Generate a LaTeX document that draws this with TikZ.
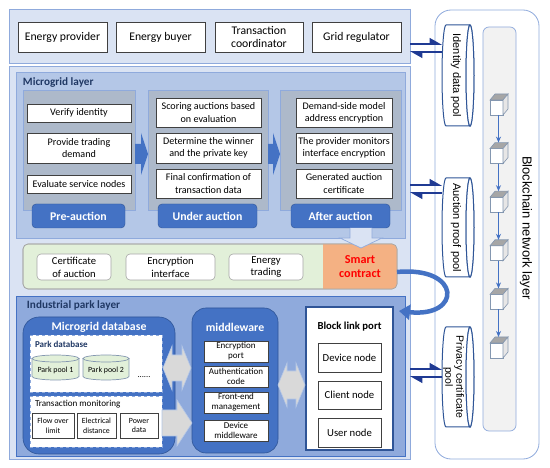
\documentclass[tikz,border=0pt]{standalone}
\usepackage{fontspec}
\setmainfont{Carlito}
\newfontfamily\arialf{Liberation Sans}
\usetikzlibrary{arrows.meta,calc}
\definecolor{pnlL}{HTML}{DAE3F3}
\definecolor{pnlB}{HTML}{8FAADC}
\definecolor{pnlM}{HTML}{B4C7E7}
\definecolor{colG}{HTML}{ADB9CA}
\definecolor{blu}{HTML}{4472C4}
\definecolor{dblu}{HTML}{2F5597}
\definecolor{navy}{HTML}{1F3A93}
\definecolor{ttl}{HTML}{203864}
\definecolor{grn}{HTML}{E2F0D9}
\definecolor{org}{HTML}{F4B183}
\definecolor{bdr}{HTML}{404040}
\definecolor{gbdr}{HTML}{A6A6A6}
\definecolor{garr}{HTML}{D9D9D9}
\definecolor{cubeB}{HTML}{8497B0}
\definecolor{cubeT}{HTML}{A6A6A6}
\definecolor{cubeS}{HTML}{E7E6E6}
\definecolor{chainG}{HTML}{F2F2F2}
\newcommand\fsz[2]{\fontsize{#1}{#2}\selectfont}
\newcommand\hcyl[4]{%
  \filldraw[poolline] (#3-4,{(#2+#4)/2}) ellipse (4 and {(#4-#2)/2});
  \filldraw[poolline] (#3-4,#2) -- (#1+4,#2) arc (270:90:4 and {(#4-#2)/2}) -- (#3-4,#4) arc (90:270:4 and {(#4-#2)/2});
  \draw[poolline] (#3-4,{(#2+#4)/2}) ellipse (4 and {(#4-#2)/2});}
\newcommand\vcyl[4]{%
  \filldraw[ppool] (#1,#2+3.5) -- (#1,#4-3.5) arc (180:0:{(#3-#1)/2} and 3.5) -- (#3,#2+3.5) -- cycle;
  \filldraw[ppool] ({(#1+#3)/2},#2+3.5) ellipse ({(#3-#1)/2} and 3.5);}
\begin{document}
\begin{tikzpicture}[x=1pt,y=-1pt,
  every node/.style={inner sep=0pt, outer sep=0pt},
  panel/.style={draw=pnlB, fill=pnlL, line width=0.8pt},
  wbox/.style={draw=bdr, fill=white, align=center, line width=0.6pt},
  stagecol/.style={draw=pnlB, fill=colG, line width=0.8pt},
  stagelbl/.style={draw=dblu, fill=blu, rounded corners=4pt, text=white, font=\bfseries\fsz{11.8}{13}},
  sbox/.style={wbox, font=\fsz{10.1}{12.2}},
  rbox/.style={draw=gbdr, fill=white, rounded corners=4pt, align=center, line width=0.6pt, font=\fsz{10.6}{12.8}},
  dbox/.style={draw=pnlB, fill=white, dashed, line width=0.8pt},
  mbox/.style={draw=bdr, fill=white, align=center, line width=0.6pt, font=\fsz{7.9}{9.6}},
  mwbox/.style={draw=bdr, fill=white, align=center, line width=0.7pt, font=\fsz{9}{10}},
  nbox/.style={draw=bdr, fill=white, align=center, line width=0.6pt, font=\fsz{10.7}{12}},
  ppool/.style={draw=cubeB, fill=grn, line width=0.7pt},
  poolline/.style={draw=dblu, fill=white, line width=1pt},
  gray arrow/.style={fill=garr, draw=pnlM, line width=0.6pt},
  harp/.style={draw=navy, line width=1.6pt, -{Triangle[harpoon, left, length=11pt, width=12pt]}},
  cubef/.style={draw=cubeB, fill=white, line width=0.6pt}]
\useasboundingbox (0,0) rectangle (550,468);
\fill[white] (0,0) rectangle (550,468);

% ---------- blockchain network layer ----------
\node[draw=pnlB, fill=white, rounded corners=16pt, minimum width=104pt, minimum height=449pt, line width=0.8pt] (bc) at (487,234.5) {};
\node[draw=pnlB, fill=chainG, rounded corners=6pt, minimum width=33pt, minimum height=404pt, line width=0.7pt] (chain) at (499.5,229) {};
\node[rotate=-90, font=\arialf\fsz{13}{15}] (bcl) at (526,228) {Blockchain network layer};
\foreach \i in {1,...,6} \node[cubef, minimum width=13pt, minimum height=15pt] (c\i) at (496.5,{107.5+48.6*(\i-1)}) {};
\foreach \i in {1,...,6} {
  \filldraw[fill=cubeT, draw=cubeB, line width=0.6pt] (c\i.north west) -- ++(5,-6) -- ++(13,0) -- (c\i.north east) -- cycle;
  \filldraw[fill=cubeS, draw=cubeB, line width=0.6pt] (c\i.north east) -- ++(5,-6) -- ++(0,15) -- (c\i.south east) -- cycle;
}
\foreach \i/\j in {1/2,2/3,3/4,4/5,5/6}
  \draw[blu, line width=1.1pt, -{Stealth[length=6pt,width=5pt]}] ([xshift=2pt]c\i.south) -- ([xshift=2pt,yshift=6pt]c\j.north);

\hcyl{442}{25}{474}{126}
\node[rotate=-90, font=\arialf\fsz{11}{12}, minimum width=101pt, minimum height=28pt] (idp) at (456,75.5) {Identity data pool};
\hcyl{442}{178}{474}{277}
\node[rotate=-90, font=\arialf\fsz{11}{12}, minimum width=99pt, minimum height=28pt] (ap) at (456,227.5) {Auction proof pool};
\hcyl{442}{327}{474}{427}
\node[rotate=-90, font=\arialf\fsz{10.5}{11}, align=center, minimum width=100pt, minimum height=23pt] (pcp) at (453.5,377) {Privacy certificate\\pool};

% ---------- top panel ----------
\node[panel, minimum width=401pt, minimum height=54pt] (top) at (209.5,36) {};
\node[wbox, font=\fsz{11.7}{13.5}, minimum width=89pt, minimum height=30pt] (ep) at (62.5,37) {Energy provider};
\node[wbox, font=\fsz{11.7}{13.5}, minimum width=89pt, minimum height=30pt] (eb) at (160.5,37) {Energy buyer};
\node[wbox, font=\fsz{11.7}{13.5}, minimum width=88pt, minimum height=30pt] (tc) at (259,37) {Transaction\\coordinator};
\node[wbox, font=\fsz{11.7}{13.5}, minimum width=89pt, minimum height=30pt] (gr) at (356.5,37) {Grid regulator};

% ---------- outer panel ----------
\node[panel, minimum width=401pt, minimum height=393pt] (outer) at (209.5,262.5) {};

% ---------- microgrid layer ----------
\node[draw=pnlB, fill=pnlM, line width=0.8pt, minimum width=389pt, minimum height=166pt] (mgl) at (210.5,155) {};
\node[anchor=west, font=\bfseries\fsz{11.2}{12}, text=ttl] (mgt) at (23,83) {Microgrid layer};

\node[stagecol, minimum width=112pt, minimum height=120pt] (pre) at (79,150) {};
\node[stagecol, minimum width=120pt, minimum height=120pt] (under) at (208,150) {};
\node[stagecol, minimum width=121pt, minimum height=120pt] (after) at (340.5,150) {};

\fill[blu] (135,144) -- (141,144) -- (141,133) -- (148,154) -- (141,175) -- (141,164) -- (135,164) -- cycle;
\fill[blu] (268,144) -- (273,144) -- (273,133) -- (280,154) -- (273,175) -- (273,164) -- (268,164) -- cycle;

\node[sbox, minimum width=104pt, minimum height=18pt] (vi) at (79,113) {Verify identity};
\node[sbox, minimum width=104pt, minimum height=30pt] (ptd) at (79,148) {Provide trading\\demand};
\node[sbox, minimum width=104pt, minimum height=18pt] (esn) at (79,184) {Evaluate service nodes};

\node[sbox, minimum width=105pt, minimum height=29pt] (sab) at (208.5,112.5) {Scoring auctions based\\on evaluation};
\node[sbox, minimum width=105pt, minimum height=30pt] (dtw) at (208.5,148) {Determine the winner\\and the private key};
\node[sbox, minimum width=105pt, minimum height=29pt] (fct) at (208.5,183.5) {Final confirmation of\\transaction data};

\node[sbox, minimum width=96pt, minimum height=29pt] (dsm) at (344,112.5) {Demand-side model\\address encryption};
\node[sbox, minimum width=96pt, minimum height=30pt] (tpm) at (344,148) {The provider monitors\\interface encryption};
\node[sbox, minimum width=96pt, minimum height=29pt] (gac) at (344,183.5) {Generated auction\\certificate};

\node[stagelbl, minimum width=93pt, minimum height=24pt] (preL) at (78.5,216) {Pre-auction};
\node[stagelbl, minimum width=99pt, minimum height=24pt] (underL) at (207.5,216) {Under auction};
\node[stagelbl, minimum width=99pt, minimum height=24pt] (afterL) at (340.5,216) {After auction};

% ---------- smart contract row ----------
\node[draw=gbdr, fill=grn, rounded corners=5pt, minimum width=374pt, minimum height=45pt, line width=0.6pt] (scrow) at (210,266.5) {};
\fill[org, rounded corners=5pt] (323,244) -- (397,244) -- (397,289) -- (323,289);
\draw[gbdr, line width=0.6pt, rounded corners=5pt] (scrow.north west) rectangle (scrow.south east);
\node[font=\bfseries\fsz{12.2}{14.5}, text=red, align=center] (sc) at (360,266.5) {Smart\\contract};
\node[rbox, minimum width=74pt, minimum height=26pt] (coa) at (74,267) {Certificate\\of auction};
\node[rbox, minimum width=89pt, minimum height=26pt] (ei) at (170.5,267) {Encryption\\interface};
\node[rbox, minimum width=74pt, minimum height=26pt] (et) at (266,267) {Energy\\trading};

\filldraw[fill=pnlL, draw=pnlB, line width=0.7pt] (350,228) -- (350,238) -- (340,238) -- (361,248) -- (382,238) -- (372,238) -- (372,228);

% ---------- industrial park layer ----------
\node[draw=blu, fill=pnlB, line width=0.8pt, minimum width=389pt, minimum height=160pt] (ind) at (210.5,376) {};
\node[anchor=west, font=\bfseries\fsz{11.2}{12}, text=ttl] (indt) at (27,305) {Industrial park layer};

\node[fill=blu, draw=dblu, line width=0.6pt, rounded corners=16pt, minimum width=152pt, minimum height=137pt] (mdb) at (99,385.5) {};
\node[font=\bfseries\fsz{11.8}{13}, text=white] (mdbt) at (99,327) {Microgrid database};
\node[dbox, minimum width=132pt, minimum height=57pt] (pdb) at (96,363.5) {};
\node[anchor=west, font=\bfseries\fsz{9}{10}, text=ttl] (pdbt) at (35,344) {Park database};
\vcyl{32}{355}{79}{380}
\node[font=\fsz{7.9}{9}] (pp1) at (55.5,370) {Park pool 1};
\vcyl{83}{355}{129}{380}
\node[font=\fsz{7.9}{9}] (pp2) at (106,370) {Park pool 2};
\node[font=\fsz{8.5}{9}] (dots) at (144,377) {......};

\node[dbox, minimum width=132pt, minimum height=51pt] (tm) at (96,421.5) {};
\node[anchor=west, font=\fsz{9.1}{10}] (tmt) at (35,404) {Transaction monitoring};
\node[mbox, minimum width=42pt, minimum height=25pt] (fol) at (53,425.5) {Flow over\\limit};
\node[mbox, minimum width=39pt, minimum height=25pt] (ed) at (96.5,425.5) {Electrical\\distance};
\node[mbox, minimum width=38pt, minimum height=25pt] (pd) at (139,425.5) {Power\\data};

\node[fill=blu, draw=dblu, line width=0.6pt, rounded corners=14pt, minimum width=86pt, minimum height=145pt] (mw) at (235,380.5) {};
\node[font=\bfseries\fsz{11.8}{13}, text=white] (mwt) at (235,327) {middleware};
\node[mwbox, minimum width=64pt, minimum height=21pt] (mw1) at (236,351.5) {Encryption\\port};
\node[mwbox, minimum width=64pt, minimum height=21pt] (mw2) at (236,376.5) {Authentication\\code};
\node[mwbox, minimum width=64pt, minimum height=21pt] (mw3) at (236,402.5) {Front-end\\management};
\node[mwbox, minimum width=64pt, minimum height=21pt] (mw4) at (236,430.5) {Device\\middleware};

\node[draw=dblu, fill=white, line width=1.3pt, minimum width=87pt, minimum height=143pt] (blp) at (349.5,378.5) {};
\node[font=\bfseries\fsz{10.7}{12}] (blpt) at (349.5,327) {Block link port};
\node[nbox, minimum width=63pt, minimum height=29pt] (dn) at (349.5,357.5) {Device node};
\node[nbox, minimum width=63pt, minimum height=28pt] (cn) at (349.5,395) {Client node};
\node[nbox, minimum width=63pt, minimum height=29pt] (un) at (349.5,432.5) {User node};

% gray block arrows
\filldraw[gray arrow] (163,368) -- (172,346) -- (172,355) -- (182,355) -- (182,346) -- (191,368) -- (182,390) -- (182,381) -- (172,381) -- (172,390) -- cycle;
\filldraw[gray arrow] (278,385) -- (287,363) -- (287,371) -- (296,371) -- (296,363) -- (305,385) -- (296,407) -- (296,399) -- (287,399) -- (287,407) -- cycle;
\filldraw[gray arrow] (162,410) -- (177,410) -- (177,400) -- (192,423) -- (177,446) -- (177,436) -- (162,436) -- cycle;

% ---------- harpoons ----------
\draw[harp] (top.east |- 0,44) -- (idp.south |- 0,44);
\draw[harp] (idp.south |- 0,52) -- (top.east |- 0,52);
\draw[harp] (outer.east |- 0,185) -- (ap.south |- 0,185);
\draw[harp] (ap.south |- 0,193) -- (outer.east |- 0,193);
\draw[harp] (outer.east |- 0,369) -- (pcp.south |- 0,369);
\draw[harp] (pcp.south |- 0,377) -- (outer.east |- 0,377);

% ---------- curved arrow ----------
\draw[blu, line width=4.5pt, -{Triangle[length=11pt,width=15pt]}] (scrow.east |- 0,272) .. controls (462,266) and (462,318) .. ([xshift=6pt,yshift=-4pt]blp.north east);
\end{tikzpicture}
\end{document}
